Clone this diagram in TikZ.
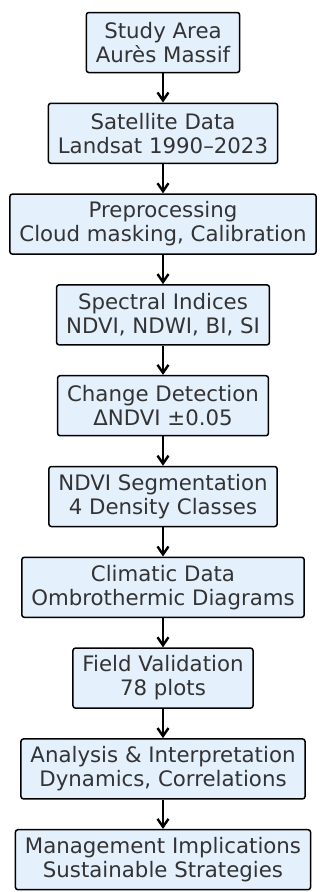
\documentclass[tikz,border=0pt]{standalone}
\usepackage{fontspec}
\setmainfont{DejaVu Sans}
\usepackage{tikz}
\usetikzlibrary{shapes, arrows.meta, positioning}
\usepackage{xcolor}
\definecolor{boxfill}{RGB}{228,240,252}
\definecolor{textgray}{RGB}{51,51,51}

\begin{document}
\begin{tikzpicture}[x=1pt, y=-1pt, node distance=29.3pt,
    stage/.style={rectangle, draw, line width=1.5pt, rounded corners=2.5pt, fill=boxfill,
        text=textgray, align=center, inner xsep=9.5pt, minimum height=60pt,
        font=\fontsize{21.3}{24}\selectfont},
    flow/.style={-{Straight Barb[length=8pt,width=11pt]}, line width=2.4pt}]
    \useasboundingbox (0,0) rectangle (320,892);

    \node (area) [stage] at (163,42.5) {Study Area\\Aurès Massif};
    \node (sat) [stage, below=of area] {Satellite Data\\Landsat 1990–2023};
    \node (prep) [stage, below=of sat] {Preprocessing\\Cloud masking, Calibration};
    \node (idx) [stage, below=of prep] {Spectral Indices\\NDVI, NDWI, BI, SI};
    \node (chg) [stage, below=of idx] {Change Detection\\ΔNDVI ±0.05};
    \node (seg) [stage, below=of chg] {NDVI Segmentation\\4 Density Classes};
    \node (clim) [stage, below=of seg] {Climatic Data\\Ombrothermic Diagrams};
    \node (field) [stage, below=of clim] {Field Validation\\78 plots};
    \node (anal) [stage, below=of field] {Analysis \& Interpretation\\Dynamics, Correlations};
    \node (mgmt) [stage, below=of anal] {Management Implications\\Sustainable Strategies};

    \draw [flow] (area) -- (sat);
    \draw [flow] (sat) -- (prep);
    \draw [flow] (prep) -- (idx);
    \draw [flow] (idx) -- (chg);
    \draw [flow] (chg) -- (seg);
    \draw [flow] (seg) -- (clim);
    \draw [flow] (clim) -- (field);
    \draw [flow] (field) -- (anal);
    \draw [flow] (anal) -- (mgmt);
\end{tikzpicture}
\end{document}
